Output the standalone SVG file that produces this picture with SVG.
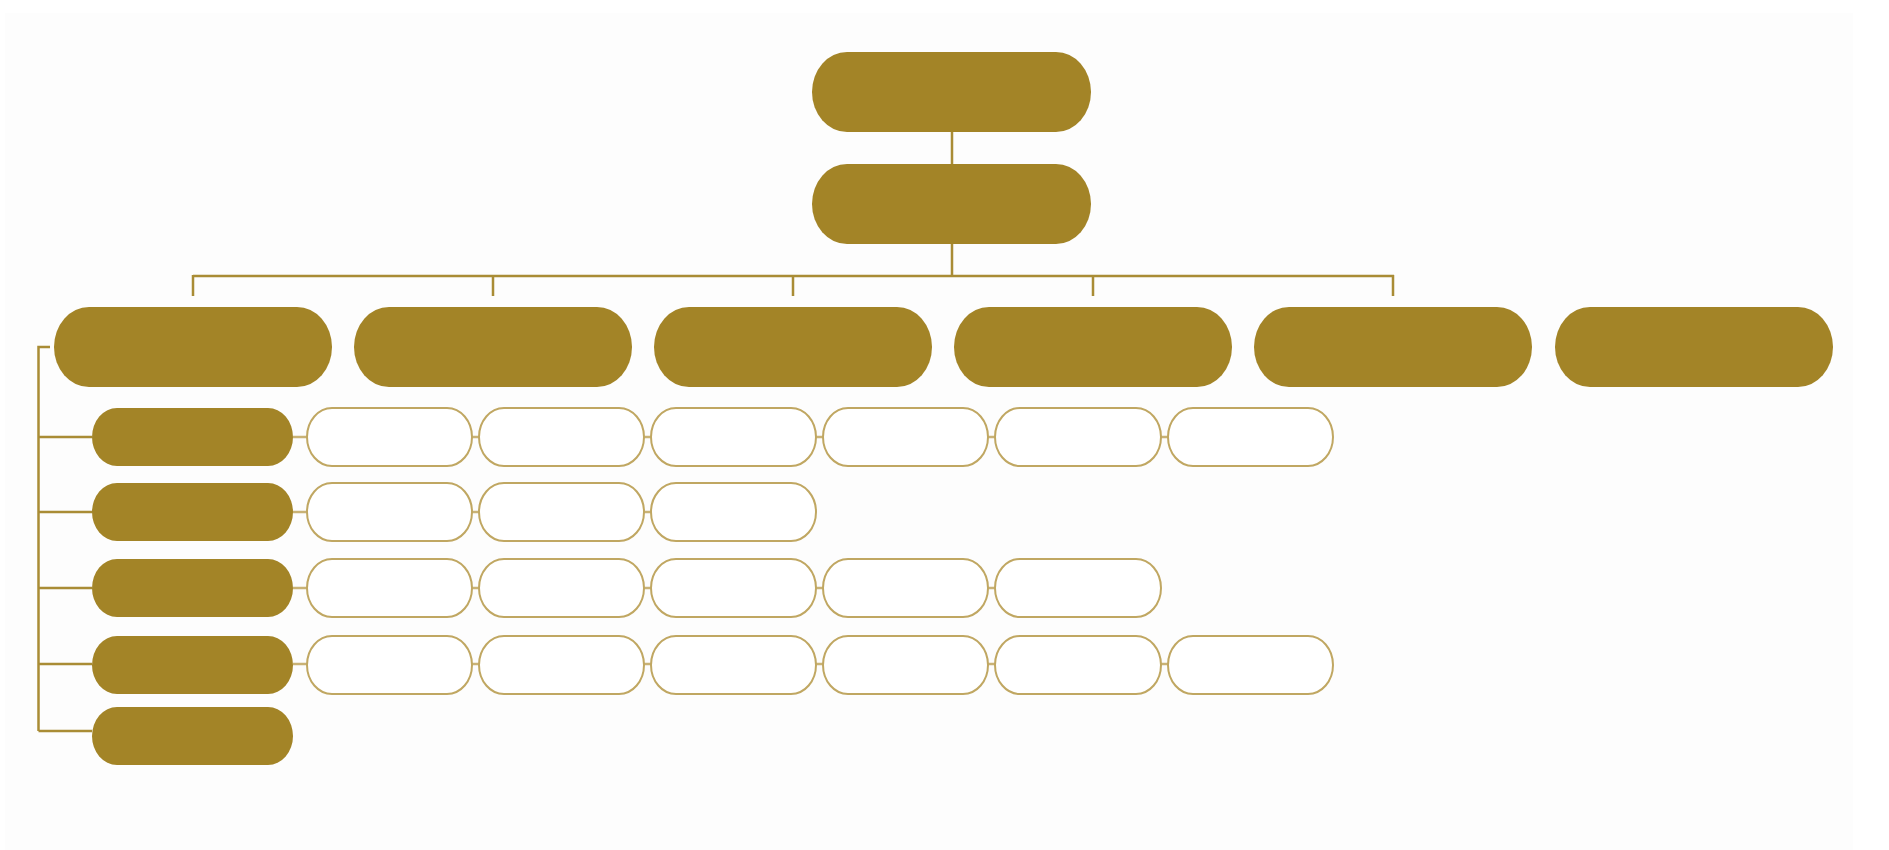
<svg xmlns="http://www.w3.org/2000/svg" width="1889" height="850" viewBox="0 0 1889 850">
<style>
.bg{fill:#fdfdfd}
.d{fill:#a38427}
.big{rx:35px;ry:40px}
.sm{rx:25px;ry:29px}
.o{fill:#ffffff;stroke:#c0a762;stroke-width:2}
.c{fill:none;stroke:#a98c35;stroke-width:2.5}
.l{fill:none;stroke:#c9b275;stroke-width:2.5}
</style>
<rect x="0" y="0" width="1889" height="850" fill="#ffffff"/>
<rect class="bg" x="5" y="13" width="1848" height="837"/>
<g id="connectors">
<path class="c" d="M952 132V164M952 244V276M193 276H1394M193 275V296M493 275V296M793 275V296M1093 275V296M1393 275V296"/>
<path class="c" d="M50 347H38.5V731M38.5 437H92M38.5 512H92M38.5 588H92M38.5 664H92M38.5 731H92"/>
<path class="l" d="M293 437H307M472 437H479M644 437H651M816 437H823M988 437H995M1161 437H1168"/>
<path class="l" d="M293 512H307M472 512H479M644 512H651"/>
<path class="l" d="M293 588H307M472 588H479M644 588H651M816 588H823M988 588H995"/>
<path class="l" d="M293 664H307M472 664H479M644 664H651M816 664H823M988 664H995M1161 664H1168"/>
</g>
<g id="top"><rect class="d" x="812" y="52" width="279" height="80" rx="35" ry="40"/></g>
<g id="second"><rect class="d" x="812" y="164" width="279" height="80" rx="35" ry="40"/></g>
<g id="l2a"><rect class="d" x="54" y="307" width="278" height="80" rx="35" ry="40"/></g>
<g id="l2b"><rect class="d" x="354" y="307" width="278" height="80" rx="35" ry="40"/></g>
<g id="l2c"><rect class="d" x="654" y="307" width="278" height="80" rx="35" ry="40"/></g>
<g id="l2d"><rect class="d" x="954" y="307" width="278" height="80" rx="35" ry="40"/></g>
<g id="l2e"><rect class="d" x="1254" y="307" width="278" height="80" rx="35" ry="40"/></g>
<g id="l2f"><rect class="d" x="1555" y="307" width="278" height="80" rx="35" ry="40"/></g>
<g id="r1"><rect class="d" x="92" y="408" width="201" height="58" rx="25" ry="29"/></g>
<g id="r2"><rect class="d" x="92" y="483" width="201" height="58" rx="25" ry="29"/></g>
<g id="r3"><rect class="d" x="92" y="559" width="201" height="58" rx="25" ry="29"/></g>
<g id="r4"><rect class="d" x="92" y="636" width="201" height="58" rx="25" ry="29"/></g>
<g id="r5"><rect class="d" x="92" y="707" width="201" height="58" rx="25" ry="29"/></g>
<g id="r1o1"><rect class="o" x="307" y="408" width="165" height="58" rx="25" ry="29"/></g>
<g id="r1o2"><rect class="o" x="479" y="408" width="165" height="58" rx="25" ry="29"/></g>
<g id="r1o3"><rect class="o" x="651" y="408" width="165" height="58" rx="25" ry="29"/></g>
<g id="r1o4"><rect class="o" x="823" y="408" width="165" height="58" rx="25" ry="29"/></g>
<g id="r1o5"><rect class="o" x="995" y="408" width="166" height="58" rx="25" ry="29"/></g>
<g id="r1o6"><rect class="o" x="1168" y="408" width="165" height="58" rx="25" ry="29"/></g>
<g id="r2o1"><rect class="o" x="307" y="483" width="165" height="58" rx="25" ry="29"/></g>
<g id="r2o2"><rect class="o" x="479" y="483" width="165" height="58" rx="25" ry="29"/></g>
<g id="r2o3"><rect class="o" x="651" y="483" width="165" height="58" rx="25" ry="29"/></g>
<g id="r3o1"><rect class="o" x="307" y="559" width="165" height="58" rx="25" ry="29"/></g>
<g id="r3o2"><rect class="o" x="479" y="559" width="165" height="58" rx="25" ry="29"/></g>
<g id="r3o3"><rect class="o" x="651" y="559" width="165" height="58" rx="25" ry="29"/></g>
<g id="r3o4"><rect class="o" x="823" y="559" width="165" height="58" rx="25" ry="29"/></g>
<g id="r3o5"><rect class="o" x="995" y="559" width="166" height="58" rx="25" ry="29"/></g>
<g id="r4o1"><rect class="o" x="307" y="636" width="165" height="58" rx="25" ry="29"/></g>
<g id="r4o2"><rect class="o" x="479" y="636" width="165" height="58" rx="25" ry="29"/></g>
<g id="r4o3"><rect class="o" x="651" y="636" width="165" height="58" rx="25" ry="29"/></g>
<g id="r4o4"><rect class="o" x="823" y="636" width="165" height="58" rx="25" ry="29"/></g>
<g id="r4o5"><rect class="o" x="995" y="636" width="166" height="58" rx="25" ry="29"/></g>
<g id="r4o6"><rect class="o" x="1168" y="636" width="165" height="58" rx="25" ry="29"/></g>
</svg>
